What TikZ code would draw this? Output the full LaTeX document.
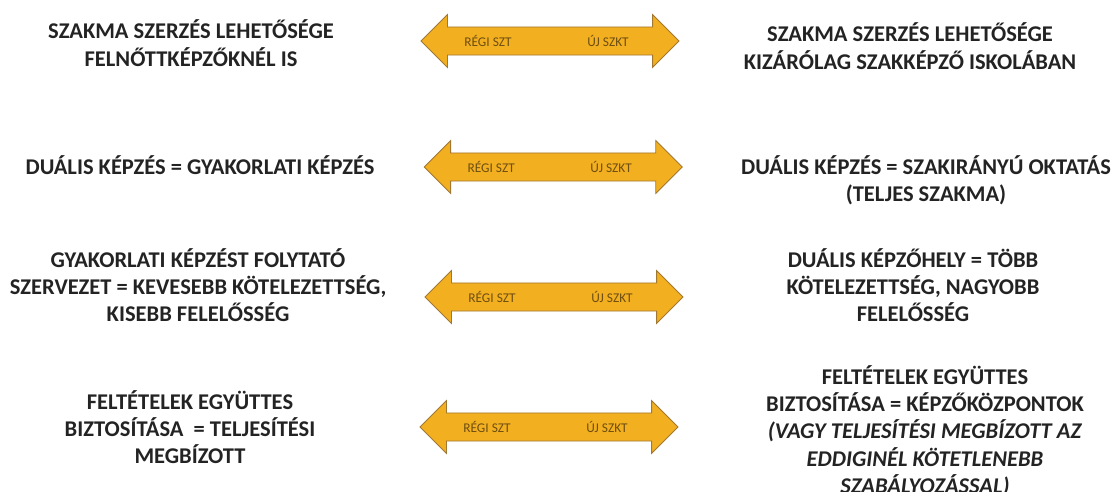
\documentclass[tikz,border=0pt]{standalone}
\usepackage{fontspec}
\setmainfont{Carlito}
\usepackage{tikz}
\usetikzlibrary{shapes.arrows, positioning}

\definecolor{arrowfill}{RGB}{242,175,32}
\definecolor{arrowline}{RGB}{160,120,50}
\definecolor{arrowtext}{RGB}{110,78,18}
\definecolor{maintext}{RGB}{35,35,35}

\tikzset{
    vs/.style={double arrow, draw=arrowline, fill=arrowfill, line width=.6pt,
        minimum height=6.45cm, inner xsep=0pt, inner ysep=.34cm,
        double arrow head extend=.31cm},
    tag/.style={text=arrowtext, font=\fontsize{9.5}{11}\selectfont},
    oldtxt/.style={align=center, text=maintext,
        font=\bfseries\fontsize{16}{19.4}\selectfont},
    newtxt/.style={oldtxt}
}

\begin{document}
\begin{tikzpicture}
    \useasboundingbox (0,0) rectangle (27.875,-12.3);
    % arrows
    \node[vs] (A1) at (13.75,-1.025) {};
    \node[vs] (A2) at (13.83,-4.175) {};
    \node[vs] (A3) at (13.85,-7.425) {};
    \node[vs] (A4) at (13.725,-10.675) {};
    \foreach \i in {1,...,4}{
        \node[tag] (R\i) at ([xshift=-1.55cm]A\i.center) {RÉGI SZT};
        \node[tag] (U\i) at ([xshift=1.45cm]A\i.center) {ÚJ SZKT};
    }
    % old side
    \node[oldtxt] (L1) at (4.775,-1.075) {SZAKMA SZERZÉS LEHETŐSÉGE\\FELNŐTTKÉPZŐKNÉL IS};
    \node[oldtxt] (L2) at (5.0,-4.125) {DUÁLIS KÉPZÉS = GYAKORLATI KÉPZÉS};
    \node[oldtxt] (L3) at (4.95,-7.125) {GYAKORLATI KÉPZÉST FOLYTATÓ\\SZERVEZET = KEVESEBB KÖTELEZETTSÉG,\\KISEBB FELELŐSSÉG};
    \node[oldtxt] (L4) at (4.75,-10.675) {FELTÉTELEK EGYÜTTES\\BIZTOSÍTÁSA ~= TELJESÍTÉSI\\MEGBÍZOTT};
    % new side
    \node[newtxt] (N1) at (22.75,-1.15) {SZAKMA SZERZÉS LEHETŐSÉGE\\KIZÁRÓLAG SZAKKÉPZŐ ISKOLÁBAN};
    \node[newtxt] (N2) at (23.15,-4.5) {DUÁLIS KÉPZÉS = SZAKIRÁNYÚ OKTATÁS\\(TELJES SZAKMA)};
    \node[newtxt] (N3) at (22.825,-7.125) {DUÁLIS KÉPZŐHELY = TÖBB\\KÖTELEZETTSÉG, NAGYOBB\\FELELŐSSÉG};
    \node[newtxt] (N4) at (23.125,-10.775) {FELTÉTELEK EGYÜTTES\\BIZTOSÍTÁSA = KÉPZŐKÖZPONTOK\\\textit{(VAGY TELJESÍTÉSI MEGBÍZOTT AZ}\\\textit{EDDIGINÉL KÖTETLENEBB}\\\textit{SZABÁLYOZÁSSAL)}};
\end{tikzpicture}
\end{document}
